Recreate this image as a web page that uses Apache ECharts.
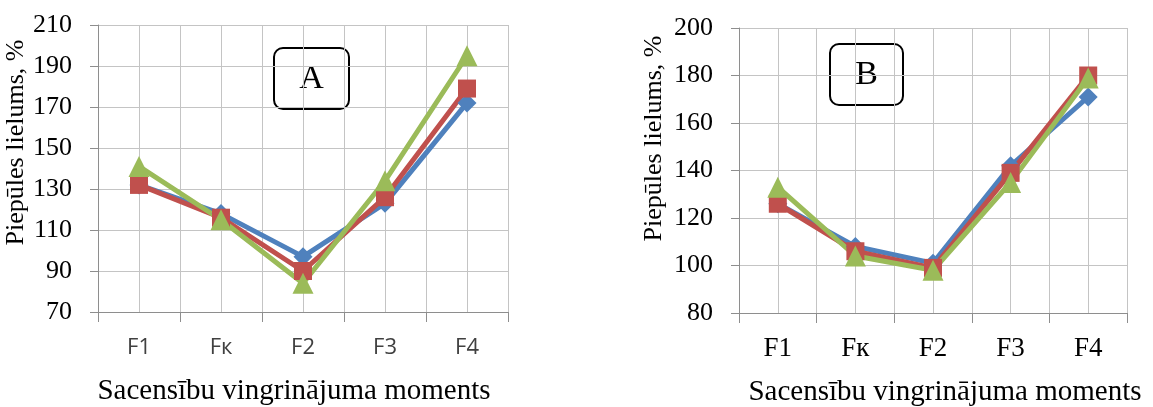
<!DOCTYPE html>
<html>
<head>
<meta charset="utf-8">
<script src="https://cdn.jsdelivr.net/npm/echarts@6/dist/echarts.min.js"></script>
<style>
  html, body { margin: 0; padding: 0; background: #fff; }
  #chart { width: 1153px; height: 407px; }
</style>
</head>
<body>
<div id="chart"></div>
<script>
  // categories and values
  var categories = ['F1', 'Fк', 'F2', 'F3', 'F4'];

  // panel A
  var aBlue = [132, 118, 97, 123, 172];
  var aRed = [132, 116, 90, 126, 179];
  var aGreen = [141, 115, 84, 134, 195];

  // panel B
  var bBlue = [126, 108, 101, 142, 171];
  var bRed = [126, 106, 99, 139, 180];
  var bGreen = [133, 104, 98, 135, 179];

  var yNameText = 'Piepūles lielums, %';
  var xNameText = 'Sacensību vingrinājuma moments';

  var serif = '"Liberation Serif", "DejaVu Serif", serif';
  var sans = '"Open Sans", "Liberation Sans", sans-serif';
  var gridColor = '#c4c4c4';
  var axisColor = '#8e8e8e';

  var blue = '#4f81bd', red = '#c0504d', green = '#9bbb59';

  function catAxis(gridIndex, labelFont, labelSize, labelColor, labelMargin, namePad) {
    return {
      type: 'category',
      gridIndex: gridIndex,
      data: categories,
      boundaryGap: true,
      axisLine: { show: true, lineStyle: { color: axisColor, width: 1 } },
      axisTick: { show: true, length: 10, lineStyle: { color: axisColor } },
      axisLabel: { fontFamily: labelFont, fontSize: labelSize, color: labelColor, margin: labelMargin },
      splitLine: { show: false },
      name: xNameText,
      nameLocation: 'middle',
      nameGap: 65,
      nameTextStyle: { fontFamily: serif, fontSize: 29, color: '#000', padding: namePad }
    };
  }

  // hidden value axis, only for the extra vertical gridlines at category centres
  function gridXAxis(gridIndex) {
    return {
      type: 'value',
      gridIndex: gridIndex,
      min: 0, max: 10, interval: 1,
      position: 'top',
      axisLine: { show: false },
      axisTick: { show: false },
      axisLabel: { show: false },
      splitLine: { show: true, lineStyle: { color: gridColor, width: 1 } }
    };
  }

  function valAxis(gridIndex, min, max, nameGap, shiftUp) {
    return {
      type: 'value',
      gridIndex: gridIndex,
      min: min, max: max, interval: 20,
      axisLine: { show: true, lineStyle: { color: axisColor } },
      axisTick: { show: true, length: 8, lineStyle: { color: axisColor } },
      axisLabel: { fontFamily: serif, fontSize: 26, color: '#000', margin: 26 },
      splitLine: { show: true, lineStyle: { color: gridColor, width: 1 } },
      name: yNameText,
      nameLocation: 'middle',
      nameGap: nameGap,
      // left padding moves the rotated title upwards
      nameTextStyle: { fontFamily: serif, fontSize: 26, color: '#000', padding: [0, 0, 0, shiftUp] }
    };
  }

  function lineSeries(data, color, symbol, size, xi, yi) {
    return {
      type: 'line',
      data: data,
      xAxisIndex: xi,
      yAxisIndex: yi,
      symbol: symbol,
      symbolSize: size,
      lineStyle: { color: color, width: 5 },
      itemStyle: { color: color },
      animation: false
    };
  }

  function labelBox(x, y, w, h, text) {
    return {
      type: 'group',
      left: x, top: y,
      children: [
        { type: 'rect', shape: { x: 0, y: 0, width: w, height: h, r: 9 },
          style: { fill: '#fff', stroke: '#000', lineWidth: 2 } },
        { type: 'text', x: w / 2, y: h / 2 + 1,
          style: { text: text, fontFamily: serif, fontSize: 34, fill: '#000', align: 'center', verticalAlign: 'middle' } }
      ]
    };
  }

  var chart = echarts.init(document.getElementById('chart'));
  chart.setOption({
    animation: false,
    grid: [
      { left: 98, right: 645, top: 25, bottom: 95, outerBoundsMode: 'none' },
      { left: 739, right: 26, top: 28, bottom: 94, outerBoundsMode: 'none' }
    ],
    xAxis: [
      catAxis(0, sans, 22, '#404040', 25, [0, 18, 0, 0]),
      catAxis(1, serif, 27, '#000', 22, [0, 0, 0, 24]),
      gridXAxis(0),
      gridXAxis(1)
    ],
    yAxis: [
      valAxis(0, 70, 210, 54, 52),
      valAxis(1, 80, 200, 72, 64)
    ],
    series: [
      lineSeries(aBlue, blue, 'diamond', 19, 0, 0),
      lineSeries(aRed, red, 'rect', 18, 0, 0),
      lineSeries(aGreen, green, 'triangle', 21, 0, 0),
      lineSeries(bBlue, blue, 'diamond', 19, 1, 1),
      lineSeries(bRed, red, 'rect', 18, 1, 1),
      lineSeries(bGreen, green, 'triangle', 21, 1, 1)
    ],
    graphic: [
      labelBox(273, 47, 75, 61, 'A'),
      labelBox(829, 43, 73, 61, 'B')
    ]
  });
</script>
</body>
</html>
